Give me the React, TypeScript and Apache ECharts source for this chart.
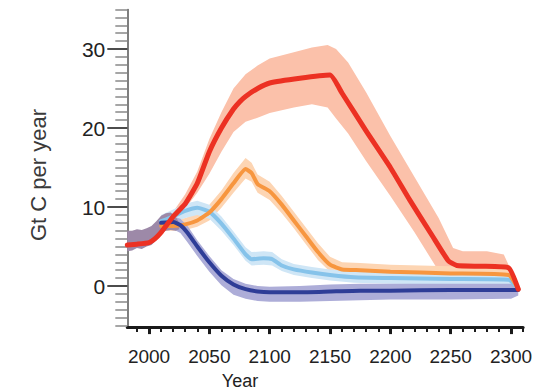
import React, { useEffect, useRef } from "react";
import * as echarts from "echarts";

// ---- axis labels ----
const yLabelValues = [0, 10, 20, 30];
const yMinorValues = [-5, -4, -3, -2, -1, 1, 2, 3, 4, 5, 6, 7, 8, 9, 11, 12, 13, 14, 15, 16, 17, 18, 19, 21, 22, 23, 24, 25, 26, 27, 28, 29, 31, 32, 33, 34, 35];
const xLabelValues = [2000, 2050, 2100, 2150, 2200, 2250, 2300];
const xMinorValues = [1990, 2010, 2020, 2030, 2040, 2060, 2070, 2080, 2090, 2110, 2120, 2130, 2140, 2160, 2170, 2180, 2190, 2210, 2220, 2230, 2240, 2260, 2270, 2280, 2290, 2310];

// ---- historical band ----
const histYears = [1982, 1986, 1990, 1994, 1998, 2002, 2006, 2010, 2014, 2018, 2022, 2025];
const histLo = [4.4, 4.5, 4.8, 4.7, 5.0, 5.2, 5.8, 6.6, 7.0, 7.1, 7.0, 7.2];
const histHi = [7.0, 7.0, 7.2, 7.1, 7.3, 7.6, 8.2, 8.9, 9.2, 9.3, 8.8, 8.0];

// ---- red scenario ----
const redYears = [1982, 1990, 2000, 2005, 2010, 2015, 2020, 2025, 2030, 2040, 2050, 2060, 2070, 2075, 2080, 2090, 2100, 2125, 2150, 2160, 2180, 2200, 2216, 2235, 2248, 2255, 2275, 2298, 2306];
const redMid = [5.2, 5.3, 5.5, 6.0, 6.8, 7.8, 8.8, 9.6, 10.4, 13.0, 17.0, 20.0, 22.4, 23.3, 24.0, 25.0, 25.7, 26.3, 26.7, 24.4, 19.6, 15.0, 10.9, 6.3, 3.2, 2.6, 2.5, 2.3, -0.4];
const redBandYears = [2005, 2020, 2030, 2040, 2050, 2060, 2070, 2080, 2090, 2100, 2120, 2135, 2148, 2155, 2165, 2180, 2200, 2220, 2240, 2252, 2260, 2280, 2294, 2306];
const redLo = [5.8, 8.4, 9.8, 11.8, 14.2, 17.0, 19.5, 20.8, 21.3, 21.9, 22.6, 23.0, 22.6, 21.2, 19.3, 15.8, 11.4, 6.8, 1.9, 1.6, 1.5, 1.6, 1.5, -0.6];
const redHi = [6.3, 9.4, 11.6, 14.5, 18.6, 22.0, 25.0, 26.8, 27.9, 28.8, 29.6, 30.2, 30.5, 30.0, 28.3, 24.5, 19.0, 13.8, 8.6, 4.8, 4.4, 4.4, 4.0, 0.0];

// ---- orange scenario ----
const orYears = [2010, 2020, 2030, 2040, 2050, 2060, 2070, 2080, 2085, 2090, 2100, 2110, 2120, 2130, 2140, 2150, 2160, 2175, 2200, 2250, 2298, 2306];
const orMid = [7.6, 7.6, 7.8, 8.3, 9.3, 11.0, 13.0, 14.8, 14.3, 12.9, 12.0, 10.3, 8.3, 6.3, 4.3, 2.7, 2.1, 2.0, 1.8, 1.6, 1.4, -0.4];
const orLo = [7.0, 7.0, 7.1, 7.5, 8.3, 9.9, 11.8, 13.6, 13.2, 11.8, 10.9, 9.2, 7.3, 5.3, 3.3, 1.8, 1.3, 1.2, 1.0, 0.9, 0.7, -0.6];
const orHi = [8.2, 8.3, 8.6, 9.2, 10.3, 12.1, 14.3, 16.2, 15.6, 14.1, 13.2, 11.4, 9.4, 7.4, 5.4, 3.7, 3.0, 2.9, 2.7, 2.5, 2.2, -0.1];

// ---- light blue scenario ----
const lbYears = [2010, 2020, 2030, 2040, 2050, 2060, 2070, 2080, 2085, 2095, 2102, 2110, 2120, 2135, 2150, 2170, 2200, 2250, 2298, 2306];
const lbMid = [8.2, 8.8, 9.5, 9.9, 9.4, 7.9, 6.0, 4.0, 3.4, 3.5, 3.4, 2.6, 2.1, 1.7, 1.4, 1.1, 1.0, 0.9, 0.8, -0.4];
const lbLo = [7.5, 8.0, 8.6, 9.0, 8.5, 7.0, 5.2, 3.2, 2.6, 2.7, 2.6, 1.9, 1.4, 1.0, 0.7, 0.4, 0.3, 0.2, 0.1, -0.6];
const lbHi = [9.0, 9.7, 10.4, 10.8, 10.3, 8.8, 6.9, 4.9, 4.3, 4.4, 4.3, 3.4, 2.8, 2.4, 2.1, 1.8, 1.7, 1.6, 1.5, -0.2];

// ---- dark blue scenario ----
const dbYears = [2010, 2020, 2026, 2032, 2040, 2050, 2060, 2070, 2080, 2090, 2100, 2125, 2150, 2175, 2200, 2250, 2300, 2306];
const dbMid = [8.0, 8.1, 7.7, 6.7, 5.0, 3.0, 1.3, 0.2, -0.4, -0.7, -0.8, -0.8, -0.7, -0.6, -0.6, -0.5, -0.5, -0.5];
const dbLo = [7.2, 7.2, 6.7, 5.5, 3.8, 1.8, 0.1, -1.1, -1.6, -1.9, -2.0, -2.0, -1.9, -1.8, -1.7, -1.7, -1.6, -1.2];
const dbHi = [8.7, 8.8, 8.5, 7.6, 5.8, 3.8, 2.0, 0.9, 0.3, 0.0, -0.1, 0.0, 0.2, 0.3, 0.3, 0.3, 0.3, -0.2];

const zip = (xs: number[], ys: number[]) => xs.map((x, i) => [x, ys[i]]);

function bandSeries(name: string, years: number[], lo: number[], hi: number[], color: string) {
  const data = years.map((y, i) => [y, lo[i], hi[i]]);
  return {
    type: "custom",
    name,
    z: 2,
    silent: true,
    data,
    encode: { x: 0, y: [1, 2] },
    renderItem: (params: any, api: any) => {
      if (params.dataIndex !== 0) return null;
      const top = data.map((d) => api.coord([d[0], d[2]]));
      const bot = data.map((d) => api.coord([d[0], d[1]])).reverse();
      return {
        type: "polygon",
        shape: { points: top.concat(bot) },
        style: { fill: color },
      };
    },
  };
}

function lineSeries(name: string, years: number[], vals: number[], color: string, width: number) {
  return {
    type: "line",
    name,
    z: 3,
    data: zip(years, vals),
    showSymbol: false,
    smooth: 0.15,
    lineStyle: { color, width, cap: "round", join: "round" },
    silent: true,
  };
}

export default function App() {
  const ref = useRef<HTMLDivElement>(null);
  useEffect(() => {
    if (!ref.current) return;
    const chart = echarts.init(ref.current, undefined, { renderer: "svg" });
    const font = "Liberation Sans, Arial, Helvetica, sans-serif";
    chart.setOption({
      animation: false,
      backgroundColor: "#ffffff",
      grid: { left: 127.3, right: 19.9, top: 9.5, bottom: 62.9, containLabel: false },
      xAxis: [
        {
          type: "value",
          min: 1982,
          max: 2310,
          splitLine: { show: false },
          axisLine: { show: true, onZero: false, lineStyle: { color: "#1a1a1a", width: 3 } },
          axisTick: { show: true, customValues: xLabelValues, length: 7, lineStyle: { color: "#1a1a1a", width: 3 } },
          axisLabel: {
            show: true,
            customValues: xLabelValues,
            formatter: (v: number) => String(v),
            fontSize: 19,
            fontFamily: font,
            color: "#222",
            margin: 20,
          },
        },
        {
          type: "value",
          min: 1982,
          max: 2310,
          position: "bottom",
          splitLine: { show: false },
          axisLine: { show: false, onZero: false },
          axisTick: { show: true, customValues: xMinorValues, length: 5, lineStyle: { color: "#1a1a1a", width: 2 } },
          axisLabel: { show: false },
        },
      ],
      yAxis: [
        {
          type: "value",
          min: -5.2,
          max: 35,
          splitLine: { show: false },
          axisLine: { show: true, onZero: false, lineStyle: { color: "#555", width: 1.5 } },
          axisTick: { show: true, customValues: yLabelValues, length: 20, lineStyle: { color: "#111", width: 1.5 } },
          axisLabel: { show: true, customValues: yLabelValues, fontSize: 21, fontFamily: font, color: "#222", margin: 22 },
        },
        {
          type: "value",
          min: -5.2,
          max: 35,
          position: "left",
          splitLine: { show: false },
          axisLine: { show: false, onZero: false },
          axisTick: { show: true, customValues: yMinorValues, length: 12, lineStyle: { color: "#888", width: 1.5 } },
          axisLabel: { show: false },
        },
      ],
      graphic: [
        {
          type: "text",
          x: 38,
          y: 175,
          rotation: Math.PI / 2,
          style: {
            text: "Gt C per year",
            font: `22px ${font}`,
            fill: "#3a3a3a",
            textAlign: "center",
            textVerticalAlign: "middle",
          },
        },
        {
          type: "text",
          x: 240,
          y: 381,
          style: {
            text: "Year",
            font: `18px ${font}`,
            fill: "#222",
            textAlign: "center",
            textVerticalAlign: "middle",
          },
        },
      ],
      series: [
        bandSeries("red band", redBandYears, redLo, redHi, "#fbc1aa"),
        bandSeries("orange band", orYears, orLo, orHi, "#fdd5b3"),
        bandSeries("light blue band", lbYears, lbLo, lbHi, "#cfe6f6"),
        bandSeries("dark blue band", dbYears, dbLo, dbHi, "#adadd8"),
        bandSeries("historical", histYears, histLo, histHi, "#9d89a8"),
        lineSeries("light blue", lbYears, lbMid, "#86c3ea", 4),
        lineSeries("orange", orYears, orMid, "#f7963f", 4),
        lineSeries("dark blue", dbYears, dbMid, "#2e3d97", 4),
        lineSeries("red", redYears, redMid, "#ec3123", 5),
      ],
    });
    return () => chart.dispose();
  }, []);
  return <div ref={ref} style={{ position: "fixed", left: 0, top: 0, width: 543, height: 390 }} />;
}
